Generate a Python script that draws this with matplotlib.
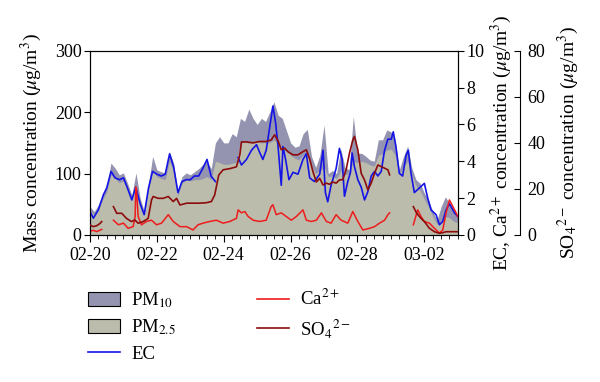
import numpy as np
import pandas as pd
import matplotlib
matplotlib.use('Agg')
import matplotlib.pyplot as plt
import matplotlib.dates as mdates
from matplotlib.patches import Patch
from matplotlib.lines import Line2D

nan = np.nan

# days after 02-20 00:00, 3-hourly for the mass concentrations
pm_day = np.arange(0, 11.001, 0.125)
pm10 = [46, 38, 49, 65, 79, 117, 109, 98,
        101, 84, 65, 101, 60, 38, 84, 128,
        106, 103, 101, 136, 117, 71, 95, 101,
        98, 103, 108, 115, 120, 108, 150, 160,
        150, 150, 165, 160, 190, 185, 205, 190,
        180, 190, 185, 200, 217, 195, 190, 170,
        150, 143, 145, 165, 172, 128, 110, 130,
        179, 100, 105, 100, 140, 110, 106, 193,
        133, 133, 128, 122, 120, 155, 155, 171,
        168, 155, 106, 128, 145, 109, 90, 84,
        68, 57, 38, 24, 46, 62, 52, 43,
        30]
pm25 = [40, 33, 42, 57, 70, 98, 92, 85,
        88, 74, 57, 82, 52, 34, 74, 105,
        95, 92, 90, 120, 104, 64, 84, 90,
        88, 90, 90, 92, 95, 90, 120, 118,
        115, 115, 117, 118, 150, 152, 150, 150,
        152, 150, 150, 150, 155, 148, 140, 135,
        130, 125, 122, 130, 128, 112, 100, 105,
        110, 95, 96, 92, 105, 98, 100, 120,
        118, 120, 118, 114, 112, 130, 132, 138,
        140, 130, 98, 112, 120, 98, 80, 72,
        58, 46, 30, 18, 22, 30, 28, 22,
        20]

ec_day = [0.0, 0.10, 0.25, 0.40, 0.50, 0.63, 0.75, 0.88,
          1.0, 1.12, 1.25, 1.37, 1.5, 1.62, 1.75, 1.87,
          2.0, 2.13, 2.25, 2.38, 2.5, 2.63, 2.75, 2.88,
          3.0, 3.12, 3.25, 3.37, 3.5, 3.62, 3.75, 4.1,
          4.43, 4.53, 4.68, 4.83, 4.98,
          5.07, 5.17, 5.27, 5.37, 5.47, 5.55, 5.62, 5.72, 5.77, 5.85, 5.95,
          6.07, 6.22, 6.37, 6.47, 6.57, 6.71, 6.87, 6.97,
          7.04, 7.11, 7.21, 7.36, 7.46, 7.54, 7.61, 7.71, 7.79, 7.84, 7.91,
          8.01, 8.11, 8.21, 8.31, 8.41, 8.51, 8.61, 8.71, 8.81, 8.91,
          9.01, 9.07, 9.15, 9.25, 9.35, 9.45, 9.52, 9.6, 9.7, 9.85,
          10.0, 10.1, 10.2, 10.35, 10.45, 10.55, 10.65, 10.75, 10.9, 11.0]
ec = [1.27, 0.91, 1.36, 2.18, 2.55, 3.45, 3.1, 3.0,
      3.1, 2.55, 1.9, 2.6, 1.7, 1.1, 2.55, 3.45,
      3.3, 3.2, 3.3, 4.4, 3.7, 2.3, 2.9, 3.0,
      3.0, 3.2, 3.2, 3.6, 4.1, 3.2, 2.9, nan,
      4.2, 3.8, 4.1, 4.6, 4.9,
      4.5, 4.1, 4.6, 5.8, 7.0, 6.1, 4.9, 2.7, 4.8, 4.1, 3.0,
      3.4, 3.3, 4.1, 4.4, 3.1, 2.9, 3.3, 4.6,
      2.3, 1.8, 2.7, 3.6, 4.7, 4.1, 2.1, 2.9, 3.4, 4.45, 3.7,
      3.0, 2.6, 1.9, 2.35, 3.2, 3.45, 3.2, 3.45, 4.6, 5.2,
      5.2, 5.6, 4.8, 3.35, 3.2, 4.3, 4.6, 3.35, 2.3, 2.55,
      2.8, 2.0, 1.36, 1.1, 0.55, 0.73, 1.36, 1.7, 1.2, 1.0]

ca_day = [0.0, 0.1, 0.2, 0.35, 0.5, 0.70, 0.85, 1.0, 1.14, 1.29,
          1.35, 1.37, 1.39, 1.44, 1.54, 1.69, 1.84, 1.99, 2.14, 2.34,
          2.49, 2.69, 2.89, 3.08, 3.23, 3.38, 3.58, 3.78, 3.98, 4.18,
          4.38, 4.43, 4.53, 4.63, 4.73, 4.88, 5.07, 5.27, 5.42, 5.47,
          5.57, 5.72, 5.87, 6.02, 6.17, 6.37, 6.47, 6.62, 6.77, 6.92,
          7.07, 7.21, 7.36, 7.51, 7.71, 7.86, 8.01, 8.16, 8.36, 8.51,
          8.66, 8.81, 8.91, 8.96, 9.3, 9.67, 9.8, 9.9, 10.0, 10.15,
          10.3, 10.45, 10.55, 10.65, 10.75, 10.85, 10.95, 11.0]
ca = [0.2, 0.25, 0.18, 0.3, nan, 0.8, 0.55, 0.64, 0.36, 0.45,
      1.0, 2.6, 2.5, 1.0, 0.55, 0.73, 0.8, 0.55, 0.64, 1.1,
      0.73, 0.45, 0.45, 0.27, 0.55, 0.64, 0.73, 0.8, 0.64, 0.73,
      0.9, 1.36, 1.2, 1.27, 1.0, 0.8, 0.73, 0.8, 1.55, 1.64,
      1.1, 1.2, 1.0, 0.8, 1.0, 1.36, 0.8, 0.73, 0.8, 1.2,
      0.73, 0.64, 1.1, 0.8, 0.64, 1.27, 0.73, 0.27, 0.36, 0.45,
      0.64, 0.8, 1.1, 1.2, nan, 0.55, 1.36, 1.0, 0.73, 0.64,
      0.36, 0.1, 0.27, 1.2, 1.9, 1.55, 1.2, 1.0]

so4_day = [0.0, 0.1, 0.2, 0.3, 0.35, 0.5, 0.70, 0.80, 0.95, 1.09,
           1.24, 1.34, 1.44, 1.59, 1.74, 1.84, 1.89, 2.04, 2.19, 2.34,
           2.49, 2.59, 2.69, 2.89, 3.08, 3.28, 3.48, 3.63, 3.73, 3.78,
           3.85, 3.98, 4.18, 4.38, 4.48, 4.53, 4.68, 4.88, 5.07, 5.27,
           5.42, 5.52, 5.62, 5.72, 5.82, 5.92, 6.07, 6.22, 6.37, 6.47,
           6.57, 6.67, 6.77, 6.87, 6.97, 7.07, 7.16, 7.26, 7.36, 7.46,
           7.56, 7.66, 7.76, 7.86, 7.91, 8.01, 8.11, 8.21, 8.31, 8.41,
           8.51, 8.61, 8.71, 8.81, 8.91, 8.96, 9.3, 9.67, 9.77, 9.9,
           10.0, 10.15, 10.3, 10.45, 10.55, 10.65, 10.85, 11.0]
so4 = [4.3, 3.6, 4.0, 5.0, 5.8, nan, 12.3, 9.4, 9.4, 7.2,
       5.8, 6.5, 5.1, 5.8, 7.2, 15.2, 16.7, 15.9, 15.9, 16.7,
       14.5, 15.9, 13.0, 13.8, 13.8, 13.8, 14.0, 14.5, 17.4, 21.0,
       26.0, 28.3, 28.8, 29.6, 34.8, 40.4, 40.4, 40.0, 40.6, 40.6,
       41.3, 43.5, 41.0, 37.0, 37.7, 36.2, 34.8, 34.8, 36.2, 37.0,
       33.0, 27.4, 23.0, 24.6, 21.7, 22.5, 22.0, 23.0, 22.5, 23.9,
       24.0, 28.3, 35.5, 41.3, 42.8, 37.0, 26.8, 23.9, 19.6, 22.5,
       26.8, 30.4, 29.7, 29.0, 28.3, 26.1, nan, 12.3, 9.4, 7.2,
       5.8, 2.9, 1.4, 0.7, 1.0, 1.4, 1.4, 1.4]

# kleuren
C_PM10 = '#9494b0'
C_PM25 = '#bcbcac'
C_EC = '#1414e6'
C_CA = '#ee1c1c'
C_SO4 = '#8c0c0c'

plt.rcParams['font.family'] = 'Liberation Serif'
plt.rcParams['mathtext.fontset'] = 'stix'
plt.rcParams['font.size'] = 13

start = pd.Timestamp('2013-02-20')


def to_time(days):
    return start + pd.to_timedelta(np.asarray(days, dtype=float), unit='D')


fig = plt.figure(figsize=(6, 3.82), dpi=100)
ax = fig.add_axes([0.15, 0.385, 0.613, 0.482])

ax.fill_between(to_time(pm_day), 0, pm10, color=C_PM10, lw=0)
ax.fill_between(to_time(pm_day), 0, pm25, color=C_PM25, lw=0)
ax.set_ylim(0, 300)
ax.set_xlim(start, start + pd.Timedelta(days=11))
ax.set_ylabel('Mass concentration ($\\mu$g/m$^3$)', fontsize=14, labelpad=8)

ax.set_xticks(pd.date_range(start, periods=6, freq='2D'))
ax.xaxis.set_major_formatter(mdates.DateFormatter('%m-%d'))
ax.xaxis.set_minor_locator(mdates.HourLocator(byhour=[0, 6, 12, 18]))
ax.tick_params(axis='x', which='major', length=5, width=0.8, labelsize=13, pad=4)
ax.tick_params(axis='x', which='minor', length=3, width=0.6)
ax.tick_params(axis='y', length=4, width=0.8, labelsize=13, pad=2)

ax2 = ax.twinx()
ax2.plot(to_time(ec_day), ec, color=C_EC, lw=1.2)
ax2.plot(to_time(ca_day), ca, color=C_CA, lw=1.1)
ax2.set_ylim(0, 10)
ax2.set_ylabel('EC, Ca$^{2+}$ concentration ($\\mu$g/m$^3$)', fontsize=14, labelpad=3)
ax2.tick_params(axis='y', length=4, width=0.8, labelsize=13, pad=2)

ax3 = ax.twinx()
ax3.spines['right'].set_position(('axes', 1.17))
for s in ['top', 'left', 'bottom']:
    ax3.spines[s].set_visible(False)
ax3.plot(to_time(so4_day), so4, color=C_SO4, lw=1.2)
ax3.set_ylim(0, 80)
ax3.set_yticks([0, 20, 40, 60, 80])
ax3.tick_params(axis='y', direction='in', length=4, width=0.8, labelsize=13, pad=5)
ax3.set_ylabel('SO$_4$$^{2-}$ concentration ($\\mu$g/m$^3$)', fontsize=14, labelpad=8)

handles = [Patch(facecolor=C_PM10, edgecolor='black', lw=0.8),
           Patch(facecolor=C_PM25, edgecolor='black', lw=0.8),
           Line2D([], [], color=C_EC, lw=1.2),
           Line2D([], [], color=C_CA, lw=1.2),
           Line2D([], [], color=C_SO4, lw=1.2)]
labels = ['PM$_{10}$', 'PM$_{2.5}$', 'EC', 'Ca$^{2+}$', 'SO$_4$$^{2-}$']
fig.legend(handles, labels, ncol=2, loc='upper left', bbox_to_anchor=(0.147, 0.243),
           frameon=False, fontsize=13.5, handlelength=1.7, handleheight=0.8,
           handletextpad=0.6, columnspacing=4.3, labelspacing=0.4,
           borderpad=0, borderaxespad=0)

fig.savefig('out.png', dpi=100)
